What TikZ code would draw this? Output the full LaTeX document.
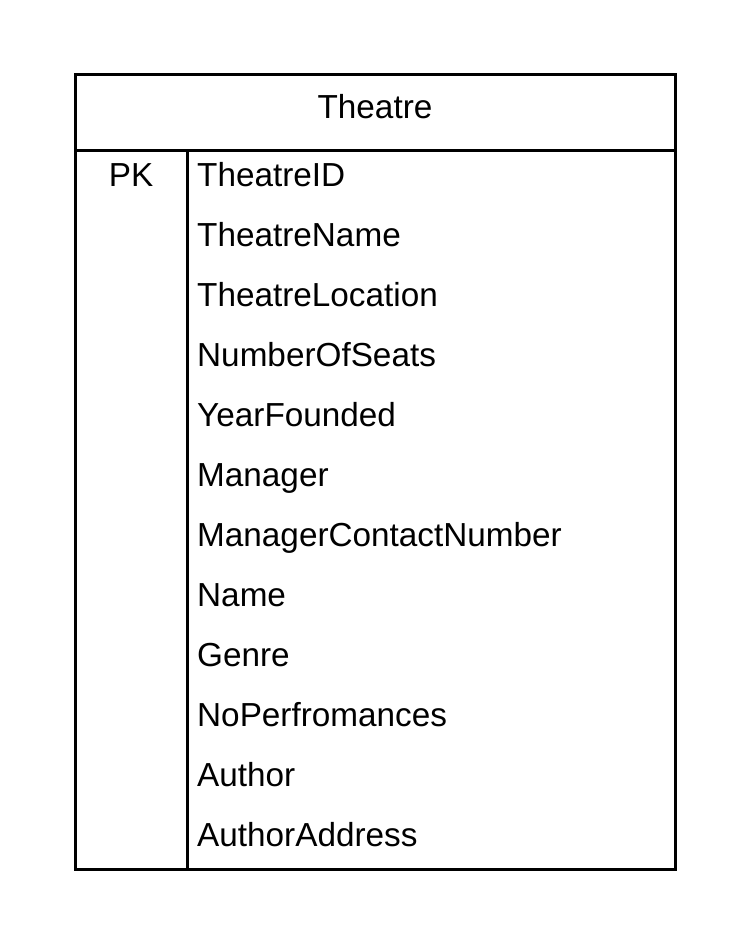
\documentclass[tikz,border=0pt]{standalone}
\usepackage{fontspec}
\setmainfont{Liberation Sans}
\begin{document}
\begin{tikzpicture}[x=1pt,y=-1pt,
  line/.style={line width=3pt},
  lbl/.style={inner sep=0pt,font=\fontsize{33.3}{40}\selectfont},
  field/.style={lbl,anchor=base west}]
\useasboundingbox (0,0) rectangle (750,945);
\coordinate (tl) at (75,74);
\coordinate (br) at (675,869);
\coordinate (hl) at (75,150);
\coordinate (hr) at (675,150);
\coordinate (vt) at (187,150);
\coordinate (vb) at (187,869);
\draw[line] (tl) rectangle (br);
\draw[line] (hl) -- (hr);
\draw[line] (vt) -- (vb);
\node[lbl,anchor=base] (title) at (375,118) {Theatre};
\node[lbl,anchor=base] (pk) at (131,186) {PK};
\foreach \t [count=\i from 0] in {TheatreID,TheatreName,TheatreLocation,NumberOfSeats,YearFounded,Manager,ManagerContactNumber,Name,Genre,NoPerfromances,Author,AuthorAddress}
  \node[field] (f\i) at (197,186+60*\i) {\t};
\end{tikzpicture}
\end{document}
